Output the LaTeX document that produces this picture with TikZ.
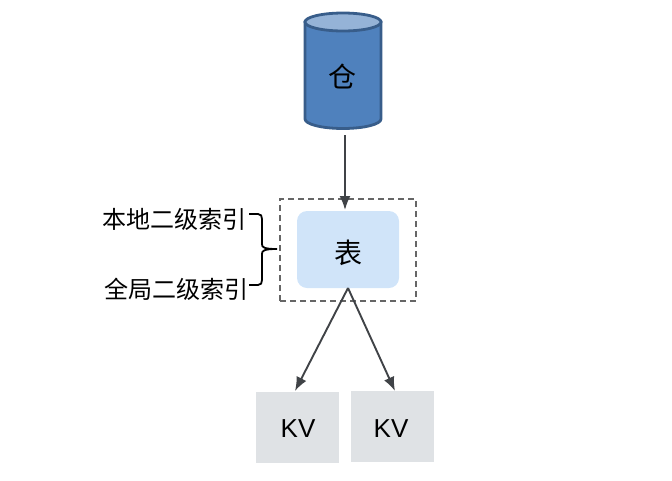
\documentclass[tikz,border=0pt]{standalone}
\usepackage{fontspec}
\setmainfont{Liberation Sans}
\newfontfamily\cjk{Noto Sans CJK SC}
\usetikzlibrary{positioning,arrows.meta}
\definecolor{repoblue}{HTML}{4F81BD}
\definecolor{repoedge}{HTML}{385D8A}
\definecolor{repotop}{HTML}{95B3D7}
\definecolor{tablefill}{HTML}{D0E4F9}
\definecolor{kvfill}{HTML}{DFE2E5}
\definecolor{linegray}{HTML}{404347}
\definecolor{dashgray}{HTML}{666666}
\tikzset{
  repoline/.style={draw=repoedge,line width=2.8pt},
  tablebox/.style={fill=tablefill,rounded corners=10pt,minimum width=102pt,minimum height=77pt,inner sep=0pt},
  kvbox/.style={fill=kvfill,minimum width=83pt,minimum height=71pt,inner sep=0pt},
  kvtext/.style={inner sep=0pt,font=\fontsize{26}{26}\selectfont},
  bigtext/.style={inner sep=0pt,font=\cjk\fontsize{28}{28}\selectfont},
  groupbox/.style={draw=dashgray,line width=1.6pt,dash pattern=on 6pt off 4pt,minimum width=136pt,minimum height=102pt,inner sep=0pt},
  link/.style={draw=linegray,line width=1.9pt,-{Latex[length=14pt,width=11pt]}},
  label/.style={inner sep=0pt,font=\cjk\fontsize{24}{24}\selectfont}
}
\begin{document}
\begin{tikzpicture}[x=1pt,y=-1pt]
\useasboundingbox (0,0) rectangle (672,480);
% repository drum
\path [repoline,fill=repoblue] (305,22) -- (305,119) arc [start angle=180,end angle=0,x radius=38,y radius=9.5] -- (381,22) -- cycle;
\path [repoline,fill=repotop] (343,22) ellipse [x radius=38,y radius=9];
\node [bigtext] (repo) at (342,76) {仓};
\node [groupbox] (group) at (348,250) {};
\node [tablebox] (table) at (348,249.5) {};
\node [bigtext] (tabletext) at (348,253) {表};
\node [kvbox] (kva) at (297.5,427.5) {};
\node [kvbox] (kvb) at (392.5,426.5) {};
\node [kvtext] (kvatext) at (298,429) {KV};
\node [kvtext] (kvbtext) at (391,429) {KV};
\node [label] (local) at (174.5,219) {本地二级索引};
\node [label] (global) at (176.5,289) {全局二级索引};
\coordinate (repoout) at (345,135);
\coordinate (tablein) at (345,210);
\coordinate (tableout) at (348,288);
\coordinate (kvain) at (295,391);
\coordinate (kvbin) at (395,391);
\coordinate (bracetip) at (277,249);
\coordinate (bracea) at (249,214);
\coordinate (braceb) at (249,285);
% links
\draw [link] (repoout) -- (tablein);
\draw [link] (tableout) -- (kvain);
\draw [link] (tableout) -- (kvbin);
% brace
\draw [black,line width=1.8pt] (bracea) -- (258,214) .. controls (261,214) and (262,216) .. (262,219)
  -- (262,244) .. controls (262,247) and (263,249) .. (bracetip)
  (bracetip) .. controls (263,249) and (262,251) .. (262,254)
  -- (262,280) .. controls (262,283) and (261,285) .. (258,285) -- (braceb);
\end{tikzpicture}
\end{document}
